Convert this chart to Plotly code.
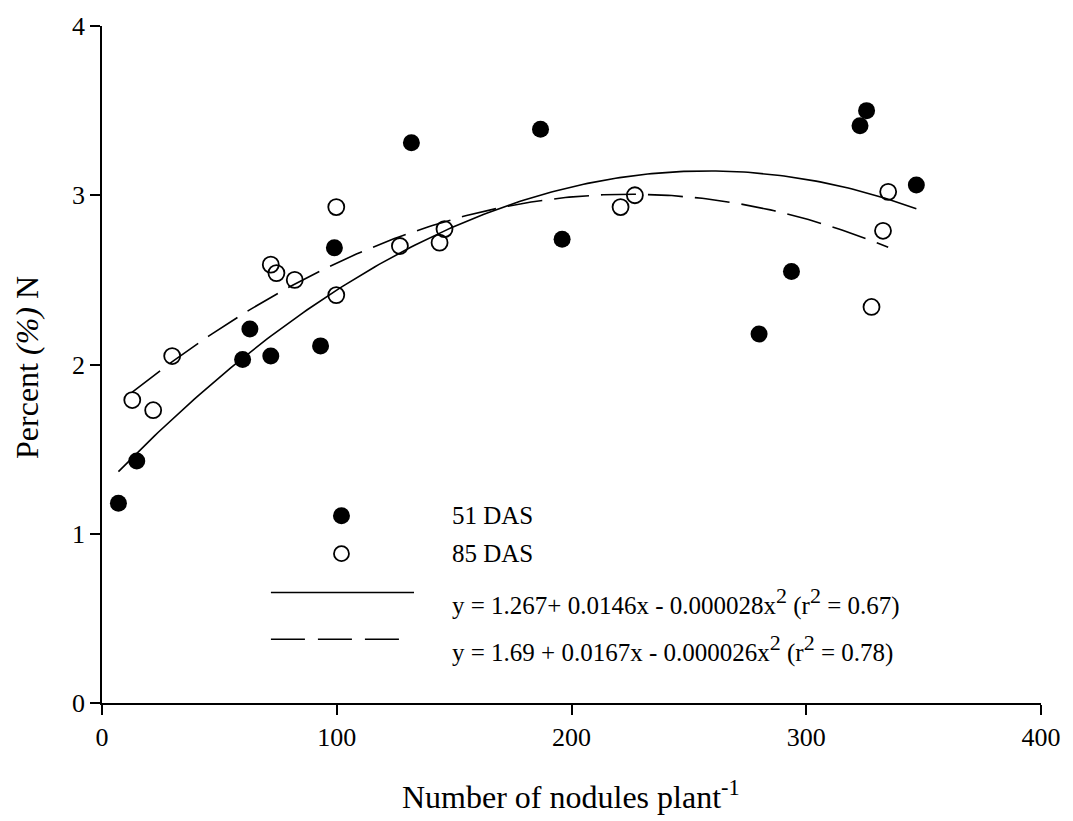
import numpy as np
import plotly.graph_objects as go

# ---- data ----
x_51 = [7.0, 14.8, 59.9, 63.0, 71.9, 93.1, 99.0, 131.8, 186.8, 196.0, 279.9, 293.7, 322.9, 325.7, 346.9]
y_51 = [1.18, 1.43, 2.03, 2.21, 2.05, 2.11, 2.69, 3.31, 3.39, 2.74, 2.18, 2.55, 3.41, 3.50, 3.06]

x_85 = [12.9, 21.8, 29.9, 71.9, 74.3, 82.1, 99.8, 99.8, 126.9, 143.8, 145.9, 220.9, 227.0, 327.8, 332.7, 334.9]
y_85 = [1.79, 1.73, 2.05, 2.59, 2.54, 2.50, 2.93, 2.41, 2.70, 2.72, 2.80, 2.93, 3.00, 2.34, 2.79, 3.02]

# quadratic fits (as drawn)
coef_51 = [1.267, 0.01455, -0.0000282]
coef_85 = [1.69, 0.0117, -0.000026]

SUP2 = "<sup><span style='font-size:22px'>2</span></sup>"
eq_51 = "y = 1.267+ 0.0146x - 0.000028x" + SUP2 + " (r" + SUP2 + " = 0.67)"
eq_85 = "y = 1.69 + 0.0167x - 0.000026x" + SUP2 + " (r" + SUP2 + " = 0.78)"
label_51 = "51 DAS"
label_85 = "85 DAS"

x_ticks = [0, 100, 200, 300, 400]
y_ticks = [0, 1, 2, 3, 4]

FONT = "Liberation Serif, Times New Roman, serif"


def quad(c, x):
    x = np.asarray(x)
    return c[0] + c[1] * x + c[2] * x ** 2


fx51 = np.linspace(min(x_51), max(x_51), 200)
fx85 = np.linspace(min(x_85), max(x_85), 200)

fig = go.Figure()
fig.add_trace(go.Scatter(x=fx51, y=quad(coef_51, fx51), mode="lines",
                         line=dict(color="black", width=1.6), showlegend=False, hoverinfo="skip"))
fig.add_trace(go.Scatter(x=fx85, y=quad(coef_85, fx85), mode="lines",
                         line=dict(color="black", width=1.6, dash="35px,12px"), showlegend=False, hoverinfo="skip"))
fig.add_trace(go.Scatter(x=x_51, y=y_51, mode="markers",
                         marker=dict(symbol="circle", size=17, color="black", line=dict(width=0)),
                         showlegend=False, cliponaxis=False))
fig.add_trace(go.Scatter(x=x_85, y=y_85, mode="markers",
                         marker=dict(symbol="circle-open", size=16, color="black", line=dict(width=1.8, color="black")),
                         showlegend=False, cliponaxis=False))

# ---- legend (drawn manually, in paper coordinates) ----
L = 102.0
T = 23.0
W = 945.0
H = 680.0


def px(xp):
    return (xp - L) / W


def py(yp):
    return (T + H - yp) / H


fig.add_shape(type="circle", xref="paper", yref="paper",
              xsizemode="pixel", ysizemode="pixel",
              xanchor=px(343), yanchor=py(515), x0=-8.5, x1=8.5, y0=-8.5, y1=8.5,
              fillcolor="black", line=dict(width=0))
fig.add_shape(type="circle", xref="paper", yref="paper",
              xsizemode="pixel", ysizemode="pixel",
              xanchor=px(343), yanchor=py(553), x0=-7.5, x1=7.5, y0=-7.5, y1=7.5,
              fillcolor="white", line=dict(width=1.8, color="black"))
fig.add_shape(type="line", xref="paper", yref="paper",
              x0=px(272), x1=px(416), y0=py(592), y1=py(592),
              line=dict(color="black", width=1.6))
fig.add_shape(type="line", xref="paper", yref="paper",
              x0=px(272), x1=px(403), y0=py(639), y1=py(639),
              line=dict(color="black", width=1.6, dash="34px,13px"))

ann_font = dict(family=FONT, size=25, color="black")
for txt, yp in [(label_51, 515), (label_85, 553), (eq_51, 601), (eq_85, 648)]:
    fig.add_annotation(text=txt, xref="paper", yref="paper", x=px(452), y=py(yp),
                       xanchor="left", yanchor="middle", showarrow=False, font=ann_font)

# axis titles
fig.add_annotation(text="Number of nodules plant<sup>-1</sup>", xref="paper", yref="paper",
                   x=px(574), y=py(795), xanchor="center", yanchor="middle", showarrow=False,
                   font=dict(family=FONT, size=32, color="black"))
fig.add_annotation(text="Percent <i>(%)</i> N", xref="paper", yref="paper",
                   x=px(27), y=py(366), xanchor="center", yanchor="middle", showarrow=False,
                   textangle=-90, font=dict(family=FONT, size=32, color="black"))

axis_common = dict(showgrid=False, zeroline=False, showline=True, linecolor="black", linewidth=1.6,
                   ticks="outside", ticklen=10, tickwidth=1.6, tickcolor="black",
                   tickfont=dict(family=FONT, size=26, color="black"))
fig.update_xaxes(range=[0, 400], tickvals=x_ticks, ticktext=[str(v) for v in x_ticks], **axis_common)
fig.update_yaxes(range=[0, 4], tickvals=y_ticks, ticktext=[str(v) for v in y_ticks], **axis_common)

fig.update_layout(width=1073, height=821, margin=dict(l=L, r=1073 - L - W, t=T, b=821 - T - H),
                  plot_bgcolor="white", paper_bgcolor="white", showlegend=False,
                  font=dict(family=FONT, color="black"))

fig.write_html("out.html")
